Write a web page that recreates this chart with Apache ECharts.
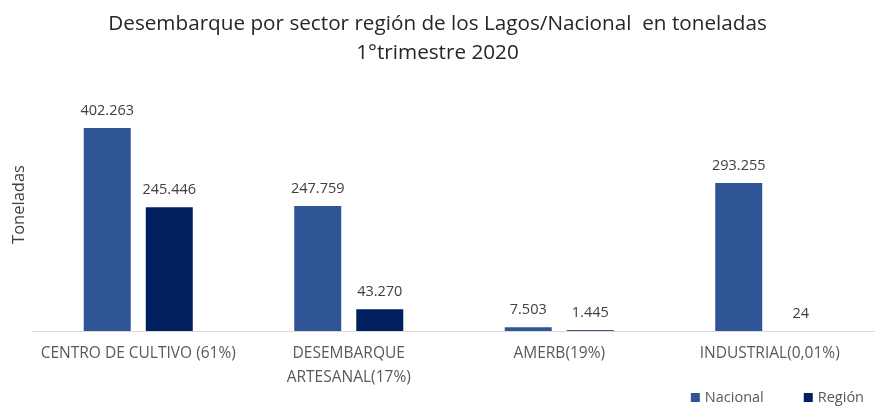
<!DOCTYPE html>
<html>
<head>
<meta charset="utf-8">
<script src="https://cdn.jsdelivr.net/npm/echarts@6/dist/echarts.min.js"></script>
<style>
  html, body { margin: 0; padding: 0; background: #fff; }
  #chart { width: 875px; height: 411px; }
</style>
</head>
<body>
<div id="chart"></div>
<script>
// datos
const categories = [
  "CENTRO DE CULTIVO (61%)",
  "DESEMBARQUE\nARTESANAL(17%)",
  "AMERB(19%)",
  "INDUSTRIAL(0,01%)",
];
const nacional = [402263, 247759, 7503, 293255];
const region = [245446, 43270, 1445, 24];
const seriesNames = ["Nacional", "Región"];

const fontFamily = "'Open Sans', 'Noto Sans', sans-serif";

// formato con punto de miles
const fmt = (v) => String(v).replace(/\B(?=(\d{3})+(?!\d))/g, ".");

const labelStyle = {
  show: true,
  position: "top",
  distance: 10,
  color: "#404040",
  fontSize: 14.5,
  fontFamily: fontFamily,
  formatter: (p) => fmt(p.value),
};

const chart = echarts.init(document.getElementById("chart"));
const option = {
  backgroundColor: "#fff",
  color: ["#2F5597", "#002060"],
  title: {
    text: "Desembarque por sector región de los Lagos/Nacional  en toneladas\n1°trimestre 2020",
    left: "center",
    top: 5,
    textStyle: {
      color: "#262626",
      fontSize: 20.7,
      fontWeight: "normal",
      fontFamily: fontFamily,
      lineHeight: 29,
    },
  },
  legend: {
    data: seriesNames,
    right: 6,
    bottom: 1,
    icon: "rect",
    itemWidth: 9,
    itemHeight: 9,
    itemGap: 40,
    textStyle: { color: "#595959", fontSize: 14.5, fontFamily: fontFamily },
  },
  grid: {
    left: 33,
    right: 0,
    top: 104,
    bottom: 80,
    outerBoundsMode: "none",
  },
  xAxis: {
    type: "category",
    data: categories,
    axisTick: { show: false },
    axisLine: { show: true, lineStyle: { color: "#D9D9D9" } },
    axisLabel: {
      color: "#595959",
      fontSize: 15.5,
      fontFamily: fontFamily,
      margin: 11,
      lineHeight: 24,
      interval: 0,
    },
  },
  yAxis: {
    type: "value",
    min: 0,
    max: 450000,
    name: "Toneladas",
    nameLocation: "middle",
    nameRotate: 90,
    nameGap: 5,
    nameTextStyle: {
      color: "#404040",
      fontSize: 16.5,
      fontFamily: fontFamily,
      padding: [0, 0, 0, 26],
    },
    axisLine: { show: false },
    axisTick: { show: false },
    axisLabel: { show: false },
    splitLine: { show: false },
  },
  series: [
    {
      name: seriesNames[0],
      type: "bar",
      barWidth: 47,
      barGap: "32%",
      data: nacional,
      label: labelStyle,
    },
    {
      name: seriesNames[1],
      type: "bar",
      barWidth: 47,
      data: region,
      label: labelStyle,
    },
  ],
};
chart.setOption(option);
</script>
</body>
</html>
